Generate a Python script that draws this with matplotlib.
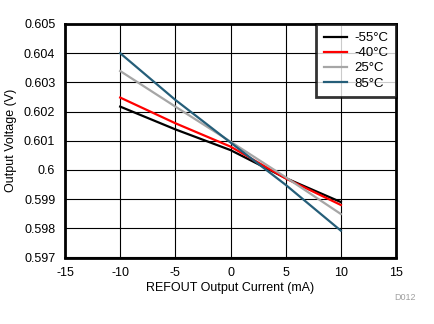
import matplotlib.pyplot as plt

plt.rcParams['font.family'] = ['Liberation Sans', 'DejaVu Sans']
plt.rcParams['axes.unicode_minus'] = False

current_ma = [-10, -5, 0, 5, 10]
v_m55 = [0.60217, 0.60139, 0.60068, 0.59972, 0.59890]
v_m40 = [0.60248, 0.60160, 0.60080, 0.59971, 0.59880]
v_25 = [0.60339, 0.60217, 0.60097, 0.59975, 0.59849]
v_85 = [0.60400, 0.60240, 0.60094, 0.59949, 0.59792]

series = [
    ("-55°C", v_m55, "#000000"),
    ("-40°C", v_m40, "#ff0000"),
    ("25°C", v_25, "#a6a6a6"),
    ("85°C", v_85, "#255e79"),
]

fig = plt.figure(figsize=(4.34, 3.24), dpi=100)
ax = fig.add_axes([65 / 434, 1 - 257.5 / 324, 331 / 434, 233.5 / 324])

for label, vals, color in series:
    ax.plot(current_ma, vals, color=color, lw=1.6, label=label)

ax.set_xlim(-15, 15)
ax.set_ylim(0.597, 0.605)
ax.set_xticks(range(-15, 16, 5))
ax.set_yticks([0.597 + 0.001 * i for i in range(9)])
ax.set_yticklabels(["0.597", "0.598", "0.599", "0.6", "0.601", "0.602", "0.603", "0.604", "0.605"])
ax.grid(True, color="black", lw=0.8)
ax.set_axisbelow(True)
ax.tick_params(length=0, labelsize=9, pad=7)
for s in ax.spines.values():
    s.set_linewidth(2)

ax.set_xlabel("REFOUT Output Current (mA)", fontsize=9, labelpad=2)
ax.set_ylabel("Output Voltage (V)", fontsize=9, labelpad=5)

leg = ax.legend(loc="upper right", fontsize=9.5, frameon=True, fancybox=False,
                borderaxespad=0, handlelength=1.7, labelspacing=0.22,
                borderpad=0.6, handletextpad=0.55)
leg.get_frame().set_edgecolor("black")
leg.get_frame().set_linewidth(2)

fig.text(405 / 434, 1 - 297 / 324, "D012", color="#a0a0a0", fontsize=6.5,
         ha="center", va="center")

fig.savefig("out.png", dpi=100)
